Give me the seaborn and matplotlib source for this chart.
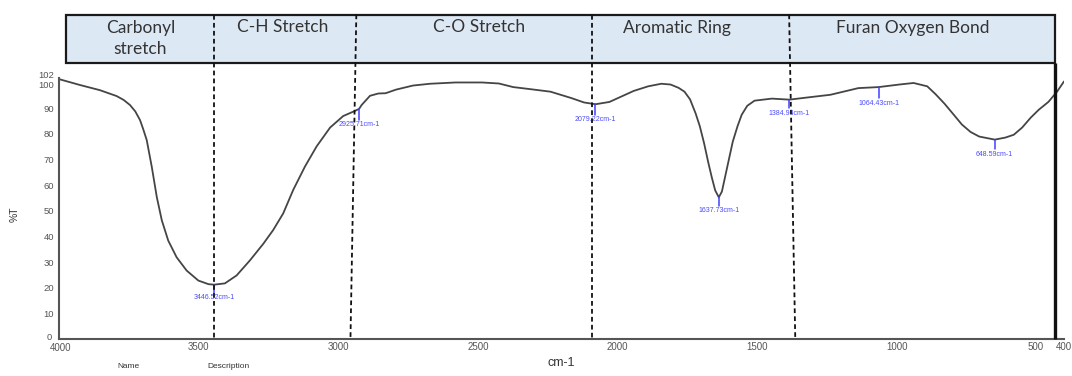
import matplotlib
matplotlib.use("Agg")
import matplotlib.pyplot as plt
import matplotlib.transforms as mtrans
from matplotlib.patches import Rectangle
import seaborn as sns
import pandas as pd

# ---- data ----
wavenumber = [3998, 3926, 3855, 3795, 3770, 3747, 3728, 3711, 3700, 3687, 3669, 3651,
              3633, 3610, 3580, 3544, 3502, 3466, 3446, 3407, 3365, 3317, 3269, 3234,
              3198, 3162, 3120, 3078, 3030, 2983, 2941, 2926, 2917, 2887, 2857, 2831,
              2794, 2733, 2672, 2580, 2486, 2425, 2374, 2313, 2240, 2165, 2120, 2079,
              2029, 1942, 1890, 1843, 1810, 1781, 1760, 1740, 1720, 1705, 1690, 1675,
              1662, 1650, 1637, 1626, 1615, 1600, 1587, 1570, 1555, 1535, 1509, 1447,
              1384, 1323, 1237, 1137, 1064, 990, 939, 890, 860, 828, 795, 766, 735,
              704, 648, 610, 580, 550, 519, 490, 456, 425, 400]
transmittance = [101.3, 99.1, 97.1, 94.8, 93.3, 91.3, 88.8, 85.4, 82.0, 77.6, 67.2, 55.4,
                 46.3, 38.4, 31.9, 26.7, 22.8, 21.4, 21.2, 21.7, 24.8, 30.7, 37.2, 42.5,
                 49.0, 58.2, 67.3, 75.2, 82.5, 87.0, 89.0, 89.8, 91.3, 94.9, 95.8, 95.9,
                 97.3, 98.9, 99.6, 100.1, 100.1, 99.7, 98.3, 97.5, 96.5, 94.0, 92.3, 91.6,
                 92.5, 96.8, 98.6, 99.6, 99.3, 98.0, 96.5, 93.5, 88.0, 83.0, 76.5, 69.0,
                 63.0, 58.0, 55.3, 57.5, 63.0, 70.5, 77.0, 83.0, 87.5, 91.0, 93.0, 93.8,
                 93.4, 94.2, 95.3, 97.9, 98.3, 99.3, 99.9, 98.6, 95.5, 91.8, 87.5, 83.7, 80.8,
                 79.0, 77.8, 78.6, 79.7, 82.5, 86.4, 89.5, 92.5, 96.5, 100.5]

peak_positions = [3446.52, 2925.71, 2079.22, 1637.73, 1384.94, 1064.43, 648.59]
peak_values = [21.2, 89.8, 91.6, 55.3, 93.4, 98.3, 77.8]
peak_tick_ends = [18.0, 85.5, 87.5, 52.0, 90.0, 94.0, 74.0]
peak_labels = ["3446.52cm-1", "2925.71cm-1", "2079.22cm-1", "1637.73cm-1",
               "1384.94cm-1", "1064.43cm-1", "648.59cm-1"]

region_names = ["C-H Stretch", "C-O Stretch", "Aromatic Ring", "Furan Oxygen Bond"]
region_centers = [3201, 2497, 1788, 942]
first_region = ["Carbonyl", "stretch"]
first_region_center = 3710

divider_top = [3446, 2936, 2091, 1385]
divider_bottom = [3446, 2957, 2091, 1363]

x_ticks = [4000, 3500, 3000, 2500, 2000, 1500, 1000, 500, 400]
x_tick_labels = ["4000", "3500", "3000", "2500", "2000", "1500", "1000", "500", "400"]
y_ticks = [0, 10, 20, 30, 40, 50, 60, 70, 80, 90, 100, 102]
y_tick_labels = ["0", "10", "20", "30", "40", "50", "60", "70", "80", "90", "100", "102"]

df = pd.DataFrame({"wavenumber": wavenumber, "T": transmittance})

sns.set_style("white")
plt.rcParams["font.family"] = ["Liberation Sans", "DejaVu Sans"]

W, H = 1072, 376
fig = plt.figure(figsize=(W / 100, H / 100), dpi=100)
ax_left, ax_right, ax_bottom, ax_top = 59.4, 1064.0, 339.0, 77.6
ax = fig.add_axes([ax_left / W, (H - ax_bottom) / H,
                   (ax_right - ax_left) / W, (ax_bottom - ax_top) / H])

sns.lineplot(data=df, x="wavenumber", y="T", ax=ax, color="#454545",
             linewidth=1.3, estimator=None)

ax.set_xlim(4000, 400)
ax.set_ylim(0, 102)
ax.set_xticks(x_ticks)
ax.set_xticklabels(x_tick_labels)
ax.set_yticks(y_ticks)
ax.set_yticklabels(y_tick_labels)
ax.tick_params(axis="x", direction="in", length=3, width=0.8, colors="#555555",
               labelsize=7, pad=2)
ax.tick_params(axis="y", direction="out", length=3, width=0.8, colors="#555555",
               labelsize=6.8, pad=1)
for s in ["top", "right"]:
    ax.spines[s].set_visible(False)
for s in ["left", "bottom"]:
    ax.spines[s].set_color("#555555")
    ax.spines[s].set_linewidth(1.5)

# small nudges so the crowded tick labels do not collide
ylabels = ax.get_yticklabels()
ylabels[-1].set_transform(ylabels[-1].get_transform() +
                          mtrans.ScaledTranslation(0, 3 / 100, fig.dpi_scale_trans))
ylabels[-2].set_transform(ylabels[-2].get_transform() +
                          mtrans.ScaledTranslation(0, -1.5 / 100, fig.dpi_scale_trans))
ylabels[0].set_transform(ylabels[0].get_transform() +
                         mtrans.ScaledTranslation(-2 / 100, 3 / 100, fig.dpi_scale_trans))
xlabels = ax.get_xticklabels()
xlabels[0].set_transform(xlabels[0].get_transform() +
                         mtrans.ScaledTranslation(1 / 100, -1.5 / 100, fig.dpi_scale_trans))

ax.set_xlabel("cm-1", fontsize=9, color="#333333")
ax.xaxis.set_label_coords(0.5, -0.07)
ax.set_ylabel("%T", fontsize=7.5, color="#333333")
ax.yaxis.set_label_coords((20 - ax_left) / (ax_right - ax_left), 0.478)

blend = mtrans.blended_transform_factory(ax.transData, ax.transAxes)
hgt = ax_bottom - ax_top
hdr_top = (ax_bottom - 14.5) / hgt
hdr_bot = (ax_bottom - 63.0) / hgt

# header band
rect = Rectangle((3975, hdr_bot), 433 - 3975, hdr_top - hdr_bot, transform=blend,
                 facecolor="#dde8f5", edgecolor="#1a1a1a", linewidth=1.6,
                 clip_on=False, zorder=3)
ax.add_patch(rect)
ax.plot([433, 433], [0, hdr_bot], transform=blend, color="#111111", lw=2.4,
        clip_on=False, zorder=4, solid_capstyle="butt")

for xt, xb in zip(divider_top, divider_bottom):
    ax.plot([xt, xb], [hdr_top, 0], transform=blend, color="#111111", lw=1.3,
            ls=(0, (2.6, 1.8)), clip_on=False, zorder=5)

hfont = dict(family=["Lato", "DejaVu Sans"], fontsize=12.5, color="#333333",
             ha="center", va="center", zorder=6, clip_on=False)
ax.text(first_region_center, (ax_bottom - 28.5) / hgt, first_region[0],
        transform=blend, **hfont)
ax.text(first_region_center, (ax_bottom - 49.5) / hgt, first_region[1],
        transform=blend, **hfont)
for name, cx in zip(region_names, region_centers):
    ax.text(cx, (ax_bottom - 27.5) / hgt, name, transform=blend, **hfont)

# peak markers
for px, pv, pe, lab in zip(peak_positions, peak_values, peak_tick_ends, peak_labels):
    ax.plot([px, px], [pv, pe], color="#4040ff", lw=1.1, zorder=4)
    ax.text(px, pe - 0.6, lab, color="#4a4aff", fontsize=5, ha="center", va="top",
            zorder=4)

fig.text(128 / W, 1 - 366 / H, "Name", fontsize=6, color="#333333",
         ha="center", va="center")
fig.text(228 / W, 1 - 366 / H, "Description", fontsize=6, color="#333333",
         ha="center", va="center")

fig.savefig("out.png", dpi=100)
